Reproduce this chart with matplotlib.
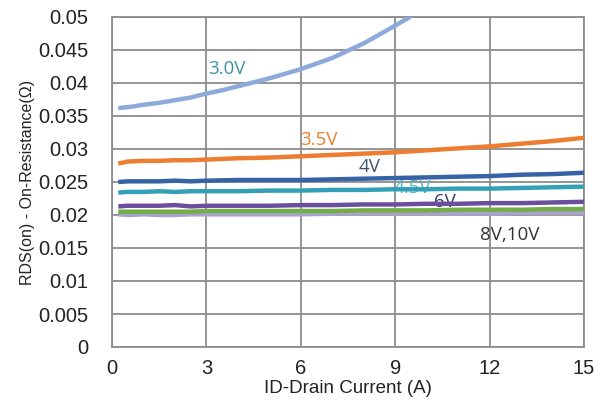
import matplotlib
matplotlib.use("Agg")
import matplotlib.pyplot as plt

# Data
x_30 = [0.2, 0.6, 1.0, 1.5, 2.0, 2.5, 3.0, 3.5, 4.0, 5.0, 6.0, 7.0, 8.0, 9.0, 10.0]
y_30 = [0.0362, 0.0364, 0.0367, 0.0370, 0.0374, 0.0378, 0.0384, 0.0389, 0.0395, 0.0407, 0.0421,
        0.0438, 0.0460, 0.0487, 0.0515]

x_common = [0.2, 0.5, 1.0, 1.5, 2.0, 2.5, 3.0, 4.0, 5.0, 6.0, 7.0, 8.0, 9.0, 10.0, 11.0, 12.0, 13.0, 14.0, 15.0]
y_35 = [0.0278, 0.0281, 0.0282, 0.0282, 0.0283, 0.0283, 0.0284, 0.0286, 0.0287, 0.0289, 0.0291,
        0.0293, 0.0295, 0.0298, 0.0301, 0.0304, 0.0308, 0.0312, 0.0317]
y_40 = [0.0250, 0.0251, 0.0251, 0.0251, 0.0252, 0.0251, 0.0252, 0.0253, 0.0253, 0.0253, 0.0254,
        0.0255, 0.0256, 0.0257, 0.0258, 0.0259, 0.0261, 0.0262, 0.0264]
y_45 = [0.0234, 0.0235, 0.0235, 0.0236, 0.0235, 0.0236, 0.0236, 0.0236, 0.0237, 0.0237, 0.0238,
        0.0238, 0.0239, 0.0239, 0.0240, 0.0240, 0.0241, 0.0242, 0.0243]
y_60 = [0.0213, 0.0214, 0.0214, 0.0214, 0.0215, 0.0213, 0.0214, 0.0214, 0.0214, 0.0215, 0.0215,
        0.0216, 0.0216, 0.0217, 0.0217, 0.0218, 0.0218, 0.0219, 0.0220]
y_80 = [0.0205, 0.0205, 0.0205, 0.0205, 0.0205, 0.0205, 0.0206, 0.0206, 0.0206, 0.0206, 0.0206,
        0.0207, 0.0207, 0.0207, 0.0208, 0.0208, 0.0208, 0.0209, 0.0209]
y_100 = [0.0201, 0.0200, 0.0201, 0.0200, 0.0200, 0.0201, 0.0201, 0.0201, 0.0201, 0.0201, 0.0202,
         0.0202, 0.0202, 0.0202, 0.0202, 0.0202, 0.0203, 0.0203, 0.0203]

x_ticks = [0, 3, 6, 9, 12, 15]
y_ticks = [0, 0.005, 0.01, 0.015, 0.02, 0.025, 0.03, 0.035, 0.04, 0.045, 0.05]
y_ticklabels = ["0", "0.005", "0.01", "0.015", "0.02", "0.025", "0.03", "0.035", "0.04", "0.045", "0.05"]

series = [
    (x_30, y_30, "#8eaadb"),
    (x_common, y_35, "#ed7d31"),
    (x_common, y_40, "#3563a6"),
    (x_common, y_45, "#33a0b8"),
    (x_common, y_60, "#6b4f9e"),
    (x_common, y_100, "#a9a2cc"),
    (x_common, y_80, "#72ad47"),
]

labels = [
    ("3.0V", 3.65, 0.0421, "#3f93a8"),
    ("3.5V", 6.58, 0.0314, "#ed7d31"),
    ("4V", 8.2, 0.0273, "#44546a"),
    ("4.5V", 9.53, 0.0241, "#58b4c8"),
    ("6V", 10.58, 0.0220, "#2f3b6e"),
    ("8V,10V", 12.65, 0.0170, "#333333"),
]

plt.rcParams['font.family'] = ['Liberation Sans', 'DejaVu Sans']

fig = plt.figure(figsize=(5.98, 4.01), dpi=100)
ax = fig.add_axes([112 / 598, 1 - 347 / 401, 472 / 598, 330 / 401])

for xs, ys, c in series:
    ax.plot(xs, ys, color=c, lw=3.2, solid_capstyle='butt', solid_joinstyle='round', zorder=3)

for txt, lx, ly, c in labels:
    ax.text(lx, ly, txt, color=c, fontsize=13.5, ha='center', va='center',
            family=['Open Sans', 'DejaVu Sans'], zorder=2)

ax.set_xlim(0, 15)
ax.set_ylim(0, 0.05)
ax.set_xticks(x_ticks)
ax.set_yticks(y_ticks)
ax.set_yticklabels(y_ticklabels)
ax.tick_params(axis='both', length=0, labelsize=14.5, colors='#222222')
ax.tick_params(axis='y', pad=17)
ax.tick_params(axis='x', pad=9)
ax.grid(True, color='#8c8c8c', lw=1.3, zorder=1)
ax.set_axisbelow(True)
for s in ax.spines.values():
    s.set_color('#8c8c8c')
    s.set_linewidth(1.3)

ax.set_xlabel("ID-Drain Current (A)", fontsize=13.5, color='#222222', labelpad=1)
ax.set_ylabel("RDS(on) - On-Resistance(Ω)", fontsize=11.5, color='#222222', labelpad=2)

fig.savefig("out.png", dpi=100)
